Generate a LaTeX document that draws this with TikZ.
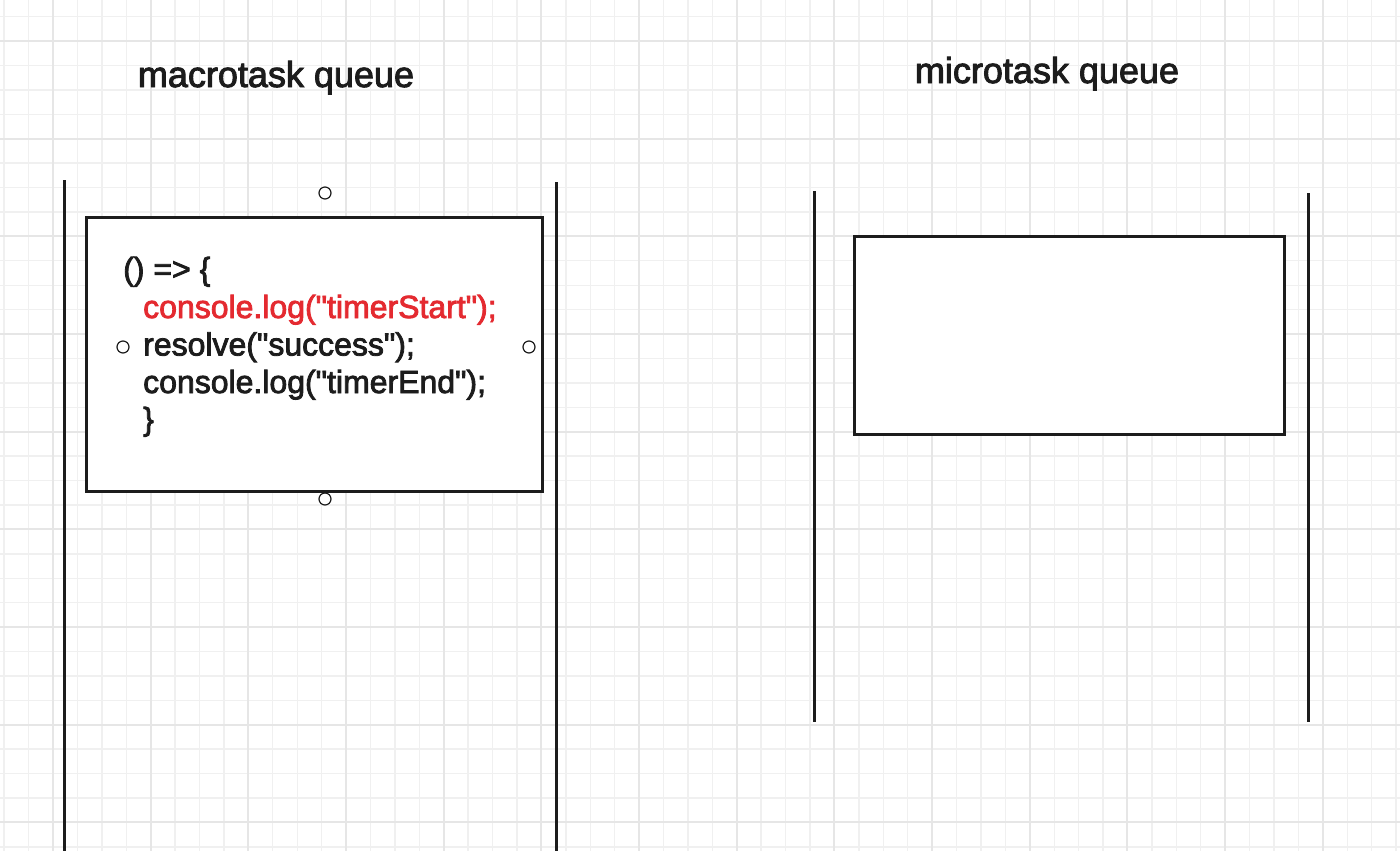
\documentclass[tikz,border=0pt]{standalone}
\usepackage{fontspec}
\setmainfont{Liberation Sans}
\newfontfamily\medfont{Liberation Sans}[FakeBold=2.5]
\definecolor{gridminor}{RGB}{240,240,240}
\definecolor{gridmajor}{RGB}{230,230,230}
\definecolor{codered}{RGB}{228,42,48}
\definecolor{ink}{RGB}{28,28,28}
\newcommand{\dq}{\XeTeXglyph\XeTeXcharglyph"22\relax}
\tikzset{
  lane/.style={draw=ink, line width=3pt},
  taskbox/.style={draw=ink, line width=3pt, fill=white},
  handle/.style={circle, draw=ink, line width=1.2pt, fill=white, minimum size=12pt, inner sep=0pt},
  title/.style={font=\fontsize{36}{40}\selectfont\medfont, text=ink, anchor=base},
  code/.style={font=\fontsize{32}{37}\selectfont\medfont, text=ink, anchor=base west, inner sep=0pt},
}
\begin{document}
\begin{tikzpicture}[x=1pt, y=-1pt]
\useasboundingbox (0,0) rectangle (1400,851);
\fill[white] (0,0) rectangle (1400,851);
% grid
\begin{scope}
\clip (0,0) rectangle (1400,851);
\foreach \i in {0,...,57} {
  \draw[gridminor, line width=1.4pt] ({4.16+24.42*\i},0) -- ({4.16+24.42*\i},851);
}
\foreach \j in {0,...,34} {
  \draw[gridminor, line width=1.4pt] (0,{16.58+24.42*\j}) -- (1400,{16.58+24.42*\j});
}
\foreach \i in {0,...,14} {
  \draw[gridmajor, line width=2pt] ({53+97.68*\i},0) -- ({53+97.68*\i},851);
}
\foreach \j in {0,...,8} {
  \draw[gridmajor, line width=2pt] (0,{41+97.68*\j}) -- (1400,{41+97.68*\j});
}
\end{scope}
% titles
\node[title] (macrotitle) at (276,87) {macrotask queue};
\node[title] (microtitle) at (1047,83) {microtask queue};
% lanes
\draw[lane] (64,180) -- (64,851);
\draw[lane] (556,182) -- (556,851);
\draw[lane] (814,191) -- (814,722);
\draw[lane] (1308,193) -- (1308,722);
% boxes
\draw[taskbox] (86,217) rectangle (542,491);
\draw[taskbox] (854,236) rectangle (1284,434);
% code
\node[code] (l1) at (123,280) {() => \{};
\node[code, text=codered] (l2) at (143,318) {console.log(\dq timerStart\dq);};
\node[code] (l3) at (143,355.5) {resolve(\dq success\dq);};
\node[code] (l4) at (143,393) {console.log(\dq timerEnd\dq);};
\node[code] (l5) at (143,430) {\}};
% handles
\node[handle] (htop) at (325,193) {};
\node[handle] (hbot) at (325,499) {};
\node[handle] (hleft) at (123,347) {};
\node[handle] (hright) at (529,347) {};
\end{tikzpicture}
\end{document}
